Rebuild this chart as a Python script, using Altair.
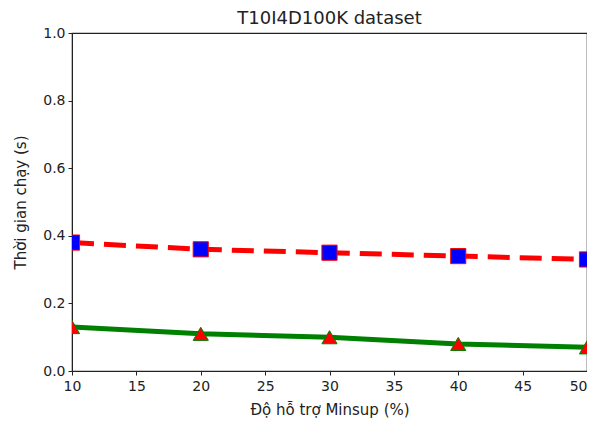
import altair as alt
import pandas as pd

minsup = [10, 20, 30, 40, 50]
series_a = [0.38, 0.36, 0.35, 0.34, 0.33]   # red dashed, blue squares
series_b = [0.13, 0.11, 0.10, 0.08, 0.07]   # green solid, red triangles
x_ticks = [10, 15, 20, 25, 30, 35, 40, 45, 50]
y_ticks = [0.0, 0.2, 0.4, 0.6, 0.8, 1.0]

df_a = pd.DataFrame({"x": minsup, "y": series_a})
df_b = pd.DataFrame({"x": minsup, "y": series_b})

FONT = "DejaVu Sans"
xs = alt.X("x:Q", scale=alt.Scale(domain=[10, 50], nice=False, zero=False),
           axis=alt.Axis(values=x_ticks, title="Độ hỗ trợ Minsup (%)", format="d",
                         labelAlign=alt.expr("datum.value == 50 ? 'right' : 'center'")))
ys = alt.Y("y:Q", scale=alt.Scale(domain=[0, 1], nice=False),
           axis=alt.Axis(values=y_ticks, title="Thời gian chạy (s)", format=".1f"))

line_a = alt.Chart(df_a).mark_line(color="red", strokeWidth=5, strokeDash=[22, 10], clip=True).encode(x=xs, y=ys)
pts_a = alt.Chart(df_a).mark_point(shape="square", filled=True, fill="blue", stroke="red",
                                   strokeWidth=1, size=230, opacity=1, clip=True).encode(x=xs, y=ys)
line_b = alt.Chart(df_b).mark_line(color="green", strokeWidth=5, clip=True).encode(x=xs, y=ys)
pts_b = alt.Chart(df_b).mark_point(shape="triangle-up", filled=True, fill="red", stroke="green",
                                   strokeWidth=1, size=230, opacity=1, clip=True).encode(x=xs, y=ys)

chart = alt.layer(line_a, line_b, pts_a, pts_b).properties(
    width=515, height=338,
    title=alt.TitleParams("T10I4D100K dataset", font=FONT, fontSize=18, fontWeight="normal",
                          color="#222", anchor="middle", offset=-2),
    autosize=alt.AutoSizeParams(type="none"),
    padding={"left": 64, "top": 25, "right": 0, "bottom": 47},
).configure_view(stroke="#222", strokeWidth=1.2).configure_axis(
    grid=False, domainColor="#222", tickColor="#222", tickSize=4,
    labelFont=FONT, labelFontSize=14, labelColor="#222",
    titleFont=FONT, titleFontSize=15, titleColor="#222", titleFontWeight="normal",
    labelFlush=False,
).configure_axisX(titlePadding=9, labelPadding=4).configure_axisY(titlePadding=14, labelPadding=3)

chart.save("out.html", embed_options={"renderer": "svg", "actions": False})
